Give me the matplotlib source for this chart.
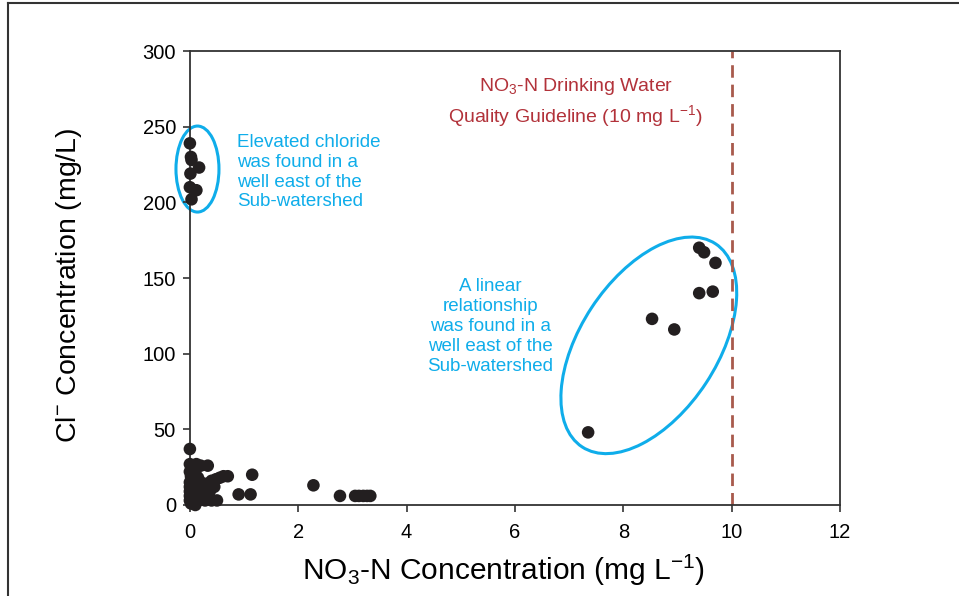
import matplotlib
matplotlib.use('agg')
import matplotlib.pyplot as plt
from matplotlib.patches import Ellipse
from matplotlib.lines import Line2D
from matplotlib.transforms import ScaledTranslation

plt.rcParams['font.family'] = ['Liberation Sans', 'DejaVu Sans']
plt.rcParams['mathtext.default'] = 'regular'

# wells with elevated chloride (near zero nitrate)
high_cl_no3 = [0.0, 0.02, 0.03, 0.17, 0.01, 0.0, 0.12, 0.03]
high_cl_cl = [239, 230, 228, 223, 219, 210, 208, 202]

# wells along the linear trend
linear_no3 = [9.40, 9.49, 9.70, 9.40, 9.65, 8.53, 8.94, 7.35]
linear_cl = [170, 167, 160, 140, 141, 123, 116, 48]

# main cluster near the origin
low_no3 = [0.0, 0.0, 0.05, 0.12, 0.2, 0.33, 0.0, 0.1, 0.02, 0.15, 0.0, 0.08,
           0.2, 0.0, 0.12, 0.25, 0.0, 0.05, 0.18, 0.3, 0.0, 0.1, 0.22, 0.35,
           0.0, 0.05, 0.15, 0.28, 0.4, 0.1, 0.02, 0.3, 0.4, 0.48, 0.55, 0.62,
           0.7, 0.45, 0.38, 0.5, 1.15, 0.9, 1.12, 2.28, 2.77, 3.05, 3.12,
           3.2, 3.27, 3.33]
low_cl = [37, 27, 25, 27, 26, 26, 22, 21, 19, 18, 15, 14,
          15, 12, 11, 12, 9, 8, 8, 9, 6, 5, 5, 6,
          3, 2, 3, 3, 3, 0, 1, 14, 16, 17, 18, 19,
          19, 12, 10, 3, 20, 7, 7, 13, 6, 6, 6,
          6, 6, 6]

guideline = 10

fig = plt.figure(figsize=(9.59, 5.96), dpi=100)
ax = fig.add_axes([0.198, 0.1527, 0.678, 0.7617])

dot = '#231f20'
for xs, ys in [(low_no3, low_cl), (high_cl_no3, high_cl_cl), (linear_no3, linear_cl)]:
    ax.scatter(xs, ys, s=82, color=dot, edgecolors='none', zorder=3, clip_on=False)

ax.plot([guideline, guideline], [0, 300], color='#a85a4c', linestyle=(0, (4.5, 2.5)),
        linewidth=2, zorder=2)

ax.set_xlim(0, 12)
ax.set_ylim(0, 300)
ax.set_xticks(range(0, 13, 2))
ax.set_yticks(range(0, 301, 50))
ax.tick_params(direction='out', length=5, width=1.2, color='#333333',
               labelsize=14.5)
ax.tick_params(axis='x', pad=8)
ax.tick_params(axis='y', pad=5)
for sp in ax.spines.values():
    sp.set_color('#333333')
    sp.set_linewidth(1.3)

ax.set_xlabel('NO$_3$-N Concentration (mg L$^{-1}$)', fontsize=21.5, labelpad=10)
ax.set_ylabel('Cl$^{-}$ Concentration (mg/L)', fontsize=20.5, labelpad=40)
ax.xaxis.set_label_coords(0.483, -0.105)
ax.yaxis.set_label_coords(-0.163, 0.485)

# highlight ellipses (size in inches, centred on data coords)
cyan = '#0fadea'
ell_left = Ellipse((0, 0), 0.43, 0.86, angle=0, fill=False, edgecolor=cyan, linewidth=2.2,
                   transform=fig.dpi_scale_trans + ScaledTranslation(0.14, 222, ax.transData),
                   clip_on=False)
ell_right = Ellipse((0, 0), 2.43, 1.37, angle=56.7, fill=False, edgecolor=cyan, linewidth=2.2,
                    transform=fig.dpi_scale_trans + ScaledTranslation(8.47, 105.5, ax.transData),
                    clip_on=False)
ax.add_patch(ell_left)
ax.add_patch(ell_right)

ax.text(0.87, 220, 'Elevated chloride\nwas found in a\nwell east of the\nSub-watershed',
        color=cyan, fontsize=13.5, ha='left', va='center', linespacing=1.22)
ax.text(5.55, 118, 'A linear\nrelationship\nwas found in a\nwell east of the\nSub-watershed',
        color=cyan, fontsize=13.5, ha='center', va='center', linespacing=1.22)

red = '#b2323a'
ax.text(7.12, 266, 'NO$_3$-N Drinking Water\nQuality Guideline (10 mg L$^{-1}$)',
        color=red, fontsize=14, ha='center', va='center', linespacing=1.35)

# page frame
fig.add_artist(Line2D([8 / 959, 8 / 959], [0, 1 - 3 / 596], color='#333333', linewidth=1.5))
fig.add_artist(Line2D([8 / 959, 1], [1 - 3 / 596, 1 - 3 / 596], color='#333333', linewidth=1.5))

fig.savefig('out.png', dpi=100)
plt.close(fig)
